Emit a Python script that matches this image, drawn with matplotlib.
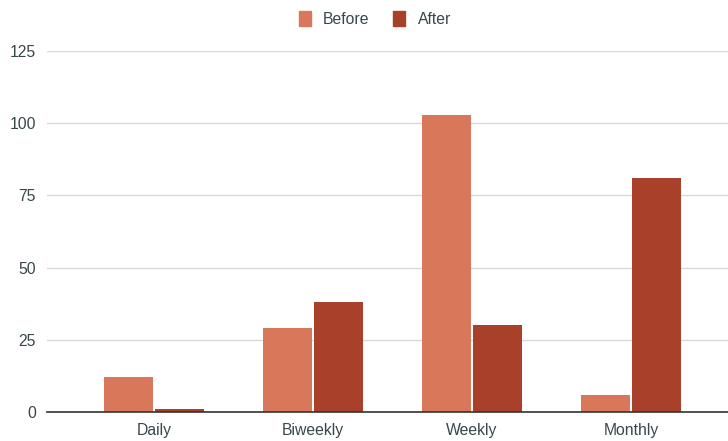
import matplotlib.pyplot as plt
import numpy as np
from matplotlib.patches import Patch

categories = ["Daily", "Biweekly", "Weekly", "Monthly"]
before = [12, 29, 103, 6]
after = [1, 38, 30, 81]
y_ticks = [0, 25, 50, 75, 100, 125]

c_before = "#D9775A"
c_after = "#A9412A"
text_color = "#37474a"

plt.rcParams["font.family"] = ["Liberation Sans", "DejaVu Sans"]

fig = plt.figure(figsize=(7.28, 4.41), dpi=100)
ax = fig.add_axes([47 / 728, 1 - 412 / 441, 1 - 47 / 728, (412 - 51) / 441])

x = np.arange(len(categories))
w = 0.31
ax.bar(x - 0.16, before, width=w, color=c_before, zorder=3)
ax.bar(x + 0.16, after, width=w, color=c_after, zorder=3)

ax.set_xlim(-0.673, 3.61)
ax.set_ylim(0, 125)
ax.set_yticks(y_ticks)
ax.set_xticks(x)
ax.set_xticklabels(categories)
ax.grid(axis="y", color="#d9d9d9", linewidth=1, zorder=0)
ax.set_axisbelow(True)
for s in ["top", "right", "left"]:
    ax.spines[s].set_visible(False)
ax.spines["bottom"].set_color("#333333")
ax.spines["bottom"].set_linewidth(1.2)
ax.spines["bottom"].set_zorder(4)
ax.tick_params(axis="both", length=0, labelsize=11.3, colors=text_color)
ax.tick_params(axis="y", pad=8)
ax.tick_params(axis="x", pad=8)

handles = [Patch(color=c_before, label="Before"), Patch(color=c_after, label="After")]
fig.legend(handles=handles, loc="upper center", bbox_to_anchor=(0.515, 1.007), ncol=2,
           frameon=False, fontsize=11.3, handlelength=0.75, handleheight=1.1,
           handletextpad=0.8, columnspacing=1.5, labelcolor=text_color)

fig.savefig("out.png", dpi=100)
